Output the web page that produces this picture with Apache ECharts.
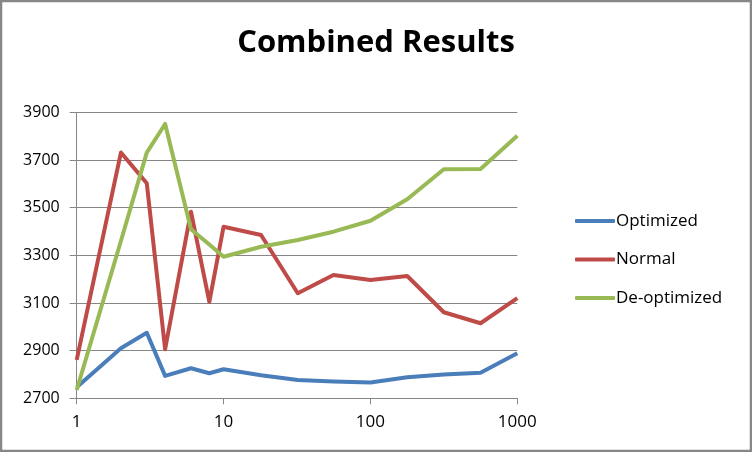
<!DOCTYPE html>
<html>
<head>
<meta charset="utf-8">
<script src="https://cdn.jsdelivr.net/npm/echarts@6/dist/echarts.min.js"></script>
<style>html,body{margin:0;padding:0;background:#fff}#c{width:752px;height:452px}</style>
</head>
<body>
<div id="c"></div>
<script>
const xValues = [1, 2, 3, 4, 6, 8, 10, 18, 32, 56, 100, 178, 316, 562, 1000];
const optimized = [2746, 2910, 2975, 2794, 2826, 2805, 2822, 2797, 2777, 2770, 2766, 2788, 2800, 2807, 2889];
const normal = [2861, 3731, 3602, 2906, 3483, 3105, 3420, 3385, 3141, 3217, 3196, 3213, 3061, 3015, 3120];
const deoptimized = [2735, 3360, 3731, 3851, 3409, 3345, 3294, 3336, 3364, 3399, 3445, 3535, 3661, 3662, 3802];
const seriesNames = ['Optimized', 'Normal', 'De-optimized'];
const colors = ['#4A7EBB', '#BE4B48', '#98B954'];

const font = 'Open Sans, Liberation Sans, sans-serif';
const pair = arr => xValues.map((x, i) => [x, arr[i]]);
const data = [optimized, normal, deoptimized];

const chart = echarts.init(document.getElementById('c'));
chart.setOption({
  animation: false,
  backgroundColor: '#fff',
  title: {
    text: 'Combined Results', left: 'center', top: 23,
    textStyle: { fontFamily: font, fontWeight: 'bold', fontSize: 31, color: '#000' }
  },
  legend: {
    orient: 'vertical', left: 570, top: 206, itemWidth: 40, itemHeight: 4, itemGap: 18.5,
    icon: 'roundRect',
    data: seriesNames,
    textStyle: { fontFamily: font, fontSize: 17, lineHeight: 20, color: '#000', padding: [0, 0, 0, -4] }
  },
  graphic: [{
    type: 'rect', shape: { x: 1, y: 1, width: 750, height: 450 }, silent: true,
    style: { fill: 'none', stroke: '#878787', lineWidth: 2.5 }
  }],
  grid: { left: 76.7, right: 234.7, top: 112.3, bottom: 53.7 },
  xAxis: {
    type: 'log', logBase: 10, min: 1, max: 1000,
    axisLine: { show: true, lineStyle: { color: '#868686', width: 1 } },
    axisTick: { show: true, length: 6, lineStyle: { color: '#868686' } },
    minorTick: { show: false },
    splitLine: { show: false },
    axisLabel: { fontFamily: font, fontSize: 17, color: '#000', margin: 15, formatter: v => String(v) }
  },
  yAxis: {
    type: 'value', min: 2700, max: 3900, interval: 200,
    axisLine: { show: true, lineStyle: { color: '#868686', width: 1 } },
    axisTick: { show: true, length: 7, lineStyle: { color: '#868686' } },
    splitLine: { show: true, lineStyle: { color: '#868686', width: 1 } },
    axisLabel: { fontFamily: font, fontSize: 16, color: '#000', margin: 17, formatter: v => String(v) }
  },
  series: seriesNames.map((n, i) => ({
    name: n, type: 'line', data: pair(data[i]), symbol: 'none', showSymbol: false,
    color: colors[i],
    lineStyle: { color: colors[i], width: 4, join: 'round' },
    itemStyle: { color: colors[i] }
  }))
});
</script>
</body>
</html>
